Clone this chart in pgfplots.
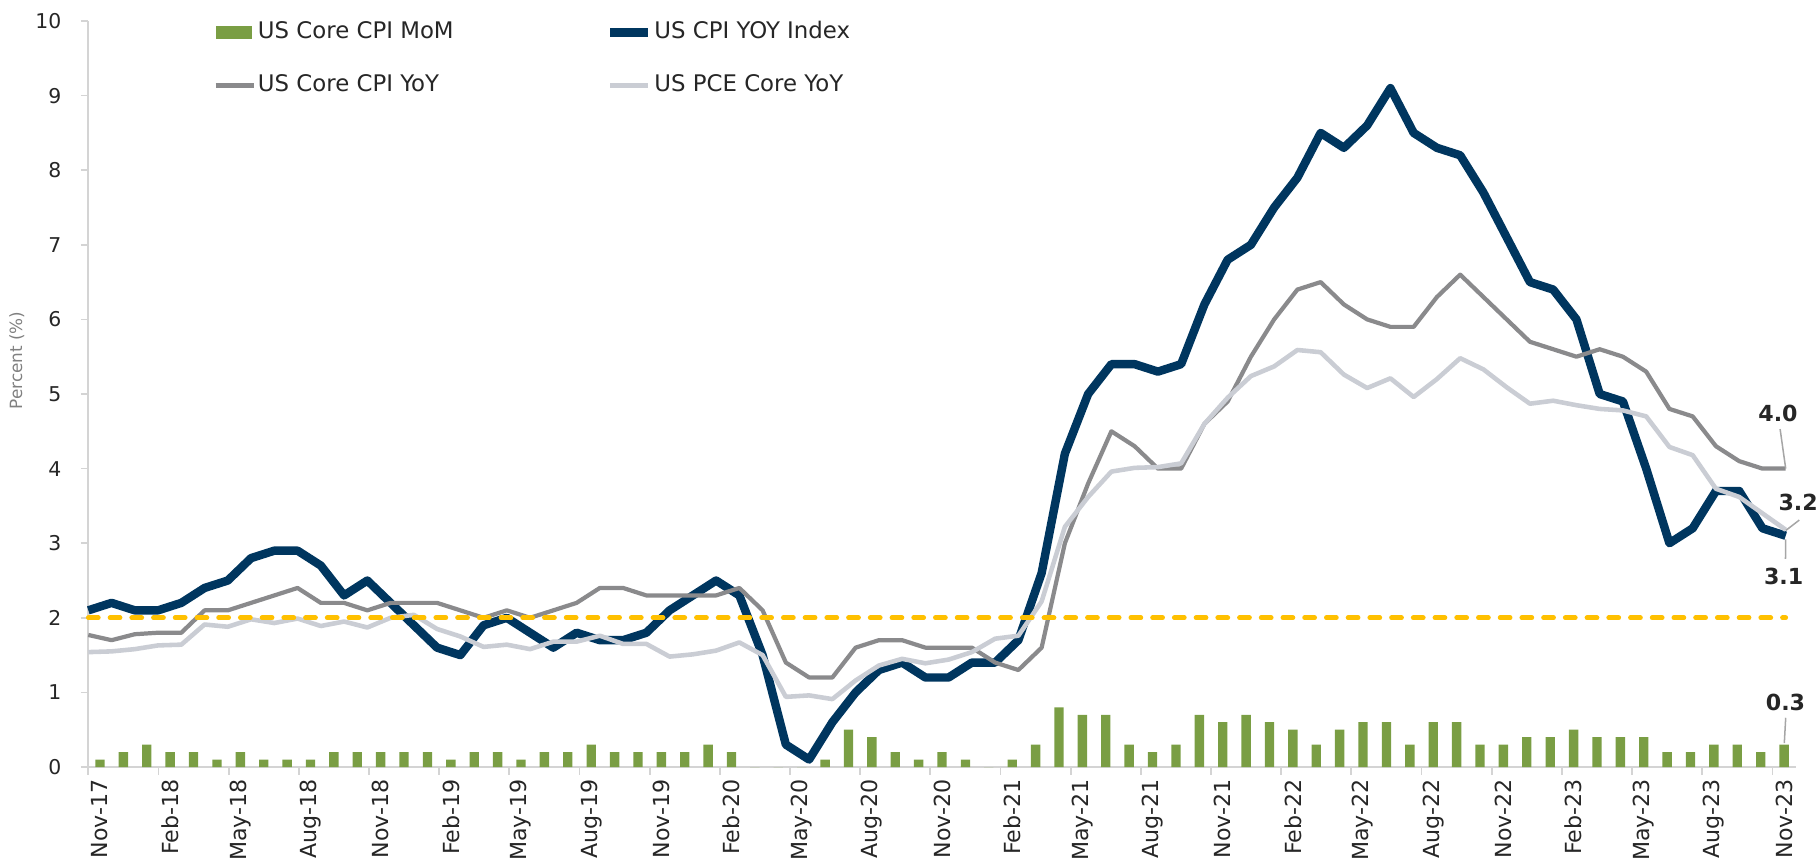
\documentclass[border=0pt]{standalone}
\usepackage{pgfplots}
\pgfplotsset{compat=1.18}
\usepackage{pgfplotstable}
\usepackage{fontspec}
\setmainfont{DejaVu Sans}
\definecolor{navy}{HTML}{00365F}
\definecolor{greyc}{HTML}{8A8A8C}
\definecolor{lgrey}{HTML}{CACDD4}
\definecolor{greenc}{HTML}{7A9E44}
\definecolor{yellowc}{HTML}{FFC000}
\definecolor{axisc}{HTML}{D4D4D4}
\definecolor{textc}{HTML}{262626}
\definecolor{leadc}{HTML}{A6A6A6}
\definecolor{labc}{HTML}{808080}

% Oct-17 .. Nov-23 (74 months)
\pgfplotstableread{
cpi core pce
2.1 1.77 1.54
2.2 1.70 1.55
2.1 1.78 1.58
2.1 1.80 1.63
2.2 1.80 1.64
2.4 2.1 1.91
2.5 2.1 1.88
2.8 2.2 1.98
2.9 2.3 1.93
2.9 2.4 1.99
2.7 2.2 1.89
2.3 2.2 1.95
2.5 2.1 1.87
2.2 2.2 2.00
1.9 2.2 2.04
1.6 2.2 1.85
1.5 2.1 1.75
1.9 2.0 1.61
2.0 2.1 1.64
1.8 2.0 1.58
1.6 2.1 1.68
1.8 2.2 1.68
1.7 2.4 1.76
1.7 2.4 1.65
1.8 2.3 1.65
2.1 2.3 1.48
2.3 2.3 1.51
2.5 2.3 1.56
2.3 2.4 1.67
1.5 2.1 1.50
0.3 1.4 0.94
0.1 1.2 0.96
0.6 1.2 0.91
1.0 1.6 1.16
1.3 1.7 1.36
1.4 1.7 1.45
1.2 1.6 1.39
1.2 1.6 1.44
1.4 1.6 1.54
1.4 1.4 1.72
1.7 1.3 1.76
2.6 1.6 2.22
4.2 3.0 3.22
5.0 3.8 3.62
5.4 4.5 3.96
5.4 4.3 4.01
5.3 4.0 4.02
5.4 4.0 4.07
6.2 4.6 4.60
6.8 4.9 4.95
7.0 5.5 5.24
7.5 6.0 5.37
7.9 6.4 5.59
8.5 6.5 5.56
8.3 6.2 5.26
8.6 6.0 5.08
9.1 5.9 5.21
8.5 5.9 4.96
8.3 6.3 5.20
8.2 6.6 5.48
7.7 6.3 5.33
7.1 6.0 5.09
6.5 5.7 4.87
6.4 5.6 4.91
6.0 5.5 4.85
5.0 5.6 4.80
4.9 5.5 4.78
4.0 5.3 4.70
3.0 4.8 4.29
3.2 4.7 4.18
3.7 4.3 3.73
3.7 4.1 3.62
3.2 4.0 3.40
3.1 4.0 3.18
}\linedata

% Nov-17 .. Nov-23 (73 months)
\pgfplotstableread{
mom
0.1
0.2
0.3
0.2
0.2
0.1
0.2
0.1
0.1
0.1
0.2
0.2
0.2
0.2
0.2
0.1
0.2
0.2
0.1
0.2
0.2
0.3
0.2
0.2
0.2
0.2
0.3
0.2
0
0
0
0.1
0.5
0.4
0.2
0.1
0.2
0.1
0
0.1
0.3
0.8
0.7
0.7
0.3
0.2
0.3
0.7
0.6
0.7
0.6
0.5
0.3
0.5
0.6
0.6
0.3
0.6
0.6
0.3
0.3
0.4
0.4
0.5
0.4
0.4
0.4
0.2
0.2
0.3
0.3
0.2
0.3
}\momdata

\begin{document}
\begin{tikzpicture}
\useasboundingbox (-8.83mm,-9.8mm) rectangle (172.87mm,76.7mm);
\begin{axis}[
  at={(0,0)}, anchor=south west,
  scale only axis, width=170.75mm, height=74.6mm,
  xmin=0, xmax=73, ymin=0, ymax=10,
  clip=false,
  axis x line=bottom, axis y line=left,
  axis line style={-, draw=axisc, line width=0.5pt},
  tick align=outside, major tick length=0.75mm,
  tick style={draw=axisc, line width=0.5pt},
  ytick={0,...,10},
  yticklabel style={font=\fontsize{5.8}{7}\selectfont, text=textc, xshift=-0.7mm},
  xtick={0,3,...,72}, xticklabels={},
  extra x ticks={0.5,3.5,...,72.5},
  extra x tick labels={Nov-17,Feb-18,May-18,Aug-18,Nov-18,Feb-19,May-19,Aug-19,Nov-19,Feb-20,May-20,Aug-20,Nov-20,Feb-21,May-21,Aug-21,Nov-21,Feb-22,May-22,Aug-22,Nov-22,Feb-23,May-23,Aug-23,Nov-23},
  extra x tick style={major tick length=0pt},
  xticklabel style={font=\fontsize{6.3}{7}\selectfont, text=textc, rotate=90, anchor=east},
  /pgf/number format/assume math mode=true,
  ylabel={Percent (\%)},
  every axis y label/.style={at={(axis description cs:-0.0418,0.545)}, rotate=90, anchor=center,
    font=\fontsize{4.8}{5.5}\selectfont, text=labc},
  legend columns=2,
  legend cell align=left,
  legend style={at={(0.073,1.0)}, anchor=north west, draw=none, fill=none,
    font=\fontsize{6.5}{7.8}\selectfont, text=textc, inner sep=0pt, row sep=3.15mm,
    /tikz/every even column/.append style={column sep=15mm},
    nodes={inner xsep=0.6pt, inner ysep=0pt, text height=1.7mm, text depth=0.45mm}},
]
\addplot[ybar, bar width=0.4, bar shift=0pt, fill=greenc, draw=none,
  legend image code/.code={\fill[greenc] (0mm,-0.63mm) rectangle (3.6mm,0.63mm);}]
  table[x expr=\coordindex+0.5, y=mom] {\momdata};
\addlegendentry{US Core CPI MoM}
\addplot[navy, line width=2.4pt, line join=round,
  legend image code/.code={\draw[navy, line width=2.4pt] (0mm,0mm) -- (3.8mm,0mm);}]
  table[x expr=\coordindex*0.9941, y=cpi] {\linedata};
\addlegendentry{US CPI YOY Index}
\addplot[greyc, line width=1.2pt, line join=round,
  legend image code/.code={\draw[greyc, line width=1.2pt] (0mm,0mm) -- (3.8mm,0mm);}]
  table[x expr=\coordindex*0.9941, y=core] {\linedata};
\addlegendentry{US Core CPI YoY}
\addplot[lgrey, line width=1.3pt, line join=round,
  legend image code/.code={\draw[lgrey, line width=1.3pt] (0mm,0mm) -- (3.8mm,0mm);}]
  table[x expr=\coordindex*0.9941, y=pce] {\linedata};
\addlegendentry{US PCE Core YoY}
\addplot[yellowc, line width=1.34pt, dash pattern=on 2.85pt off 3.33pt, line cap=round, forget plot]
  coordinates {(0,2) (72.57,2)};

% data labels
\draw[leadc, line width=0.43pt] (axis cs:72.33,4.53) -- (axis cs:72.57,4.0);
\draw[leadc, line width=0.43pt] (axis cs:72.57,3.17) -- (axis cs:73.15,3.31);
\draw[leadc, line width=0.43pt] (axis cs:72.57,3.05) -- (axis cs:72.56,2.79);
\draw[leadc, line width=0.43pt] (axis cs:72.57,0.66) -- (axis cs:72.51,0.32);
\node[font=\fontsize{6.3}{7}\selectfont\bfseries, text=textc] at (axis cs:72.24,4.745) {4.0};
\node[font=\fontsize{6.3}{7}\selectfont\bfseries, text=textc] at (axis cs:73.1,3.54) {3.2};
\node[font=\fontsize{6.3}{7}\selectfont\bfseries, text=textc] at (axis cs:72.48,2.55) {3.1};
\node[font=\fontsize{6.3}{7}\selectfont\bfseries, text=textc] at (axis cs:72.56,0.865) {0.3};
\end{axis}
\end{tikzpicture}
\end{document}
